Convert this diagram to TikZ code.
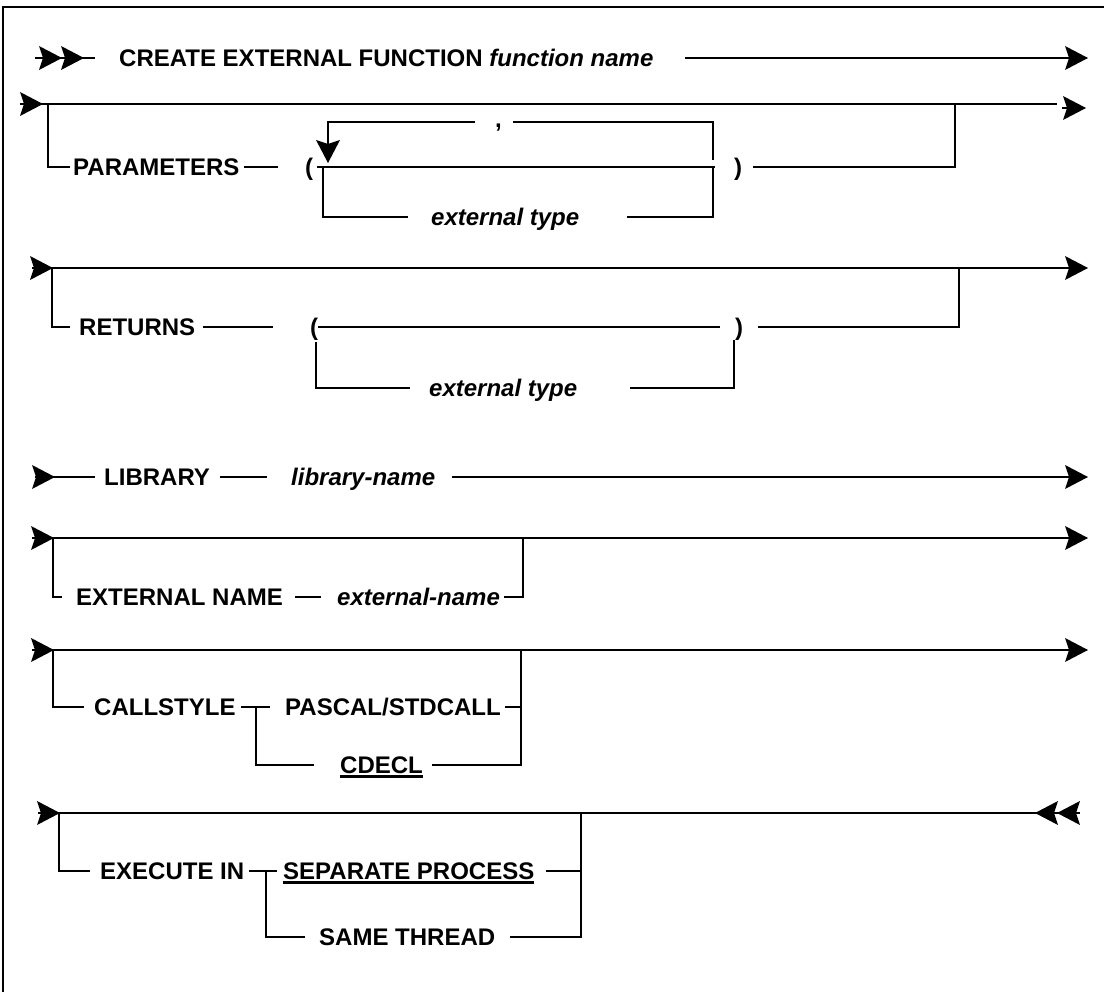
\documentclass[tikz,border=0pt]{standalone}
\usepackage{fontspec}
\setmainfont{Liberation Sans}
\newcommand\myul[1]{\setbox0\hbox{#1}\rlap{\rule[-4pt]{\wd0}{2.2pt}}\box0}
\begin{document}
\begin{tikzpicture}[x=1pt,y=-1pt,line width=2.4pt,
  kw/.style={anchor=base west,inner sep=0pt,font=\fontsize{24}{28}\selectfont\bfseries},
  var/.style={kw,font=\fontsize{24}{28}\selectfont\bfseries\itshape},
  rtip/.pic={\fill (0,0) -- (-23,-12) -- (-19,0) -- (-23,12) -- cycle;},
  ltip/.pic={\fill (0,0) -- (23,-12) -- (19,0) -- (23,12) -- cycle;},
  dtip/.pic={\fill (0,0) -- (-12,-23) -- (0,-19) -- (12,-23) -- cycle;},
  frame/.style={line width=2.6pt}]
\useasboundingbox (0,0) rectangle (1104,992);
% frame
\draw[frame] (3,992) -- (3,7) -- (1104,7);
% Row 1
\draw (35,58) -- (95,58);
\pic at (62,58) {rtip}; \pic at (84,58) {rtip};
\node[kw] (create) at (118,66.6) {CREATE EXTERNAL FUNCTION \textit{function name}};
\draw (685,58) -- (1075,58); \pic at (1088,58) {rtip};
% Row 2
\draw (20,104) -- (30,104); \pic at (43,104) {rtip};
\draw (40,104) -- (1057,104);
\draw (48,104) -- (48,167) -- (70,167);
\node[kw] (params) at (72,175.6) {PARAMETERS};
\draw (244,167) -- (278,167);
\node[kw] (lp1) at (304,175.6) {(};
\draw (317,167) -- (715,167);
\draw (713,160) -- (713,122) -- (513,122);
\draw (475,122) -- (328,122) -- (328,145);
\pic at (328,163) {dtip};
\node[kw] (comma) at (494,128) {,};
\draw (323,167) -- (323,217) -- (408,217);
\node[var] (et1) at (430,225.6) {external type};
\draw (627,217) -- (713,217) -- (713,167);
\node[kw] (rp1) at (733,175.6) {)};
\draw (753,167) -- (955,167) -- (955,104);
\draw (1062,108) -- (1072,108); \pic at (1086,108) {rtip};
% Row 3
\draw (32,268) -- (40,268); \pic at (53,268) {rtip};
\draw (50,268) -- (1075,268); \pic at (1088,268) {rtip};
\draw (52,268) -- (52,327) -- (70,327);
\node[kw] (ret) at (78,335.6) {RETURNS};
\draw (203,327) -- (273,327);
\node[kw] (lp2) at (309,335.6) {(};
\draw (318,327) -- (720,327);
\node[kw] (rp2) at (734,335.6) {)};
\draw (758,327) -- (959,327) -- (959,268);
\draw (316,342) -- (316,388) -- (410,388);
\node[var] (et2) at (428,396.6) {external type};
\draw (630,388) -- (734,388) -- (734,340);
% Row 4
\draw (35,477) -- (95,477); \pic at (55,477) {rtip};
\node[kw] (lib) at (103,485.6) {LIBRARY};
\draw (220,477) -- (267,477);
\node[var] (libn) at (290,485.6) {library-name};
\draw (452,477) -- (1075,477); \pic at (1088,477) {rtip};
% Row 5
\draw (32,538) -- (42,538); \pic at (54,538) {rtip};
\draw (52,538) -- (1075,538); \pic at (1088,538) {rtip};
\draw (53,538) -- (53,597) -- (62,597);
\node[kw] (extn) at (75,605.6) {EXTERNAL NAME};
\draw (295,597) -- (321,597);
\node[var] (extnv) at (336,605.6) {external-name};
\draw (504,597) -- (523,597) -- (523,538);
% Row 6
\draw (32,650) -- (42,650); \pic at (54,650) {rtip};
\draw (52,650) -- (1075,650); \pic at (1088,650) {rtip};
\draw (53,650) -- (53,707) -- (84,707);
\node[kw] (cs) at (93,715.6) {CALLSTYLE};
\draw (241,707) -- (270,707);
\draw (256,707) -- (256,765) -- (314,765);
\node[kw] (pas) at (284,715.6) {PASCAL/STDCALL};
\draw (505,707) -- (521,707);
\node[kw] (cdecl) at (339,773.6) {\myul{CDECL}};
\draw (432,765) -- (521,765) -- (521,650);
% Row 7
\draw (38,813) -- (48,813); \pic at (60,813) {rtip};
\draw (58,813) -- (1080,813);
\pic at (1035,813) {ltip}; \pic at (1057,813) {ltip};
\draw (59,813) -- (59,871) -- (90,871);
\node[kw] (exe) at (99,879.6) {EXECUTE IN};
\draw (249,871) -- (277,871);
\draw (266,871) -- (266,937) -- (305,937);
\node[kw] (sep) at (282,879.6) {\myul{SEPARATE PROCESS}};
\draw (546,871) -- (581,871);
\node[kw] (same) at (318,945.6) {SAME THREAD};
\draw (510,937) -- (581,937) -- (581,813);
\end{tikzpicture}
\end{document}
